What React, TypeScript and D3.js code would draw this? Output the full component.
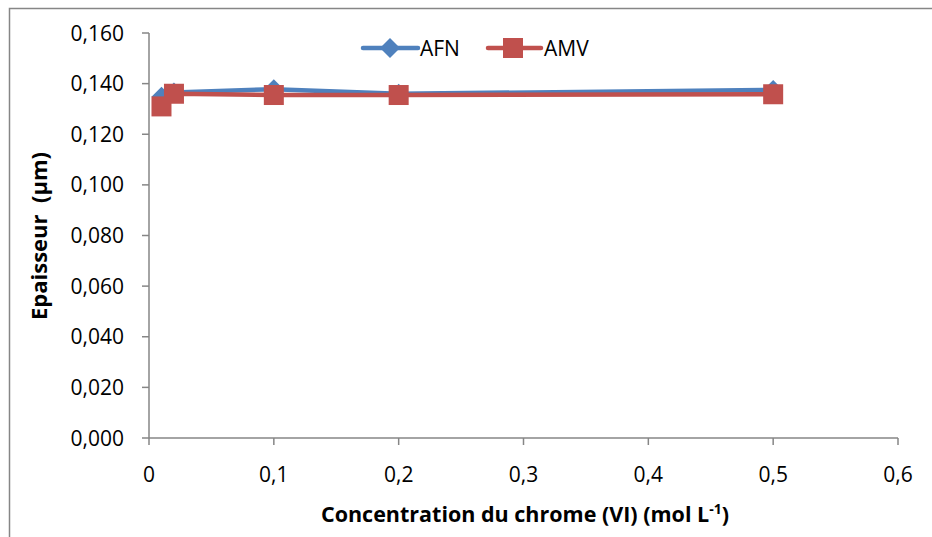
import React from "react";
import * as d3 from "d3";

const concentrations = [0.01, 0.02, 0.1, 0.2, 0.5];
const afnValues = [0.1348, 0.1365, 0.1378, 0.136, 0.1375];
const amvValues = [0.131, 0.136, 0.1355, 0.1355, 0.1358];
const yTicks = [0, 0.02, 0.04, 0.06, 0.08, 0.1, 0.12, 0.14, 0.16];
const xTicks = [0, 0.1, 0.2, 0.3, 0.4, 0.5, 0.6];

const W = 932;
const H = 537;
const FONT = "'Open Sans', 'Noto Sans', sans-serif";
const BLUE = "#4F81BD";
const RED = "#C0504D";
const AXIS = "#868686";

export default function App() {
  const x = d3.scaleLinear().domain([0, 0.6]).range([149, 898]);
  const y = d3.scaleLinear().domain([0, 0.16]).range([438, 33]);
  const line = d3
    .line<number>()
    .x((_, i) => x(concentrations[i]))
    .y((d) => y(d));
  const fmtY = (v: number) => v.toFixed(3).replace(".", ",");
  const fmtX = (v: number) => (v === 0 ? "0" : String(+v.toFixed(1)).replace(".", ","));
  const diamond = (cx: number, cy: number, r: number) =>
    `M${cx},${cy - r}L${cx + r},${cy}L${cx},${cy + r}L${cx - r},${cy}Z`;
  const sq = 10;

  return (
    <svg
      width={W}
      height={H}
      style={{ position: "absolute", left: 0, top: 0, background: "#fff" }}
      fontFamily={FONT}
    >
      <rect x={9.5} y={8.5} width={940} height={560} fill="#fff" stroke={AXIS} strokeWidth={1.5} />
      {/* axes */}
      <line x1={x(0)} x2={x(0)} y1={y(0.16)} y2={y(0)} stroke={AXIS} strokeWidth={1.5} />
      <line x1={x(0)} x2={x(0.6)} y1={y(0)} y2={y(0)} stroke={AXIS} strokeWidth={1.5} />
      {yTicks.map((t) => (
        <g key={"y" + t}>
          <line x1={x(0) - 7} x2={x(0)} y1={y(t)} y2={y(t)} stroke={AXIS} strokeWidth={1.5} />
          <text x={124} y={y(t)} dy="0.36em" textAnchor="end" fontSize={21} fill="#000">
            {fmtY(t)}
          </text>
        </g>
      ))}
      {xTicks.map((t) => (
        <g key={"x" + t}>
          <line x1={x(t)} x2={x(t)} y1={y(0)} y2={y(0) + 7} stroke={AXIS} strokeWidth={1.5} />
          <text x={x(t)} y={482} textAnchor="middle" fontSize={21} fill="#000">
            {fmtX(t)}
          </text>
        </g>
      ))}
      {/* series */}
      <path d={line(afnValues) || ""} fill="none" stroke={BLUE} strokeWidth={4.5} strokeLinejoin="round" />
      {afnValues.map((v, i) => (
        <path key={"a" + i} d={diamond(x(concentrations[i]), y(v), 10)} fill={BLUE} />
      ))}
      <path d={line(amvValues) || ""} fill="none" stroke={RED} strokeWidth={4.5} strokeLinejoin="round" />
      {amvValues.map((v, i) => (
        <rect
          key={"m" + i}
          x={x(concentrations[i]) - sq}
          y={y(v) - sq}
          width={sq * 2}
          height={sq * 2}
          fill={RED}
        />
      ))}
      {/* legend */}
      <line x1={363} x2={418} y1={48} y2={48} stroke={BLUE} strokeWidth={4.5} strokeLinecap="round" />
      <path d={diamond(390, 48, 10)} fill={BLUE} />
      <text x={420} y={48} dy="0.36em" fontSize={21} fill="#000">AFN</text>
      <line x1={488} x2={541} y1={48} y2={48} stroke={RED} strokeWidth={4.5} strokeLinecap="round" />
      <rect x={503} y={38} width={20} height={20} fill={RED} />
      <text x={544} y={48} dy="0.36em" fontSize={21} fill="#000">AMV</text>
      {/* axis titles */}
      <text x={525} y={522} textAnchor="middle" fontSize={21.5} fontWeight="bold" fill="#000">
        Concentration du chrome (VI) (mol L
        <tspan dy={-8} fontSize={14}>-1</tspan>
        <tspan dy={8}>)</tspan>
      </text>
      <text
        transform={`translate(47,236) rotate(-90)`}
        textAnchor="middle"
        fontSize={22}
        fontWeight="bold"
        fill="#000"
        style={{ whiteSpace: "pre" }}
      >
        {"Epaisseur  (µm)"}
      </text>
    </svg>
  );
}
